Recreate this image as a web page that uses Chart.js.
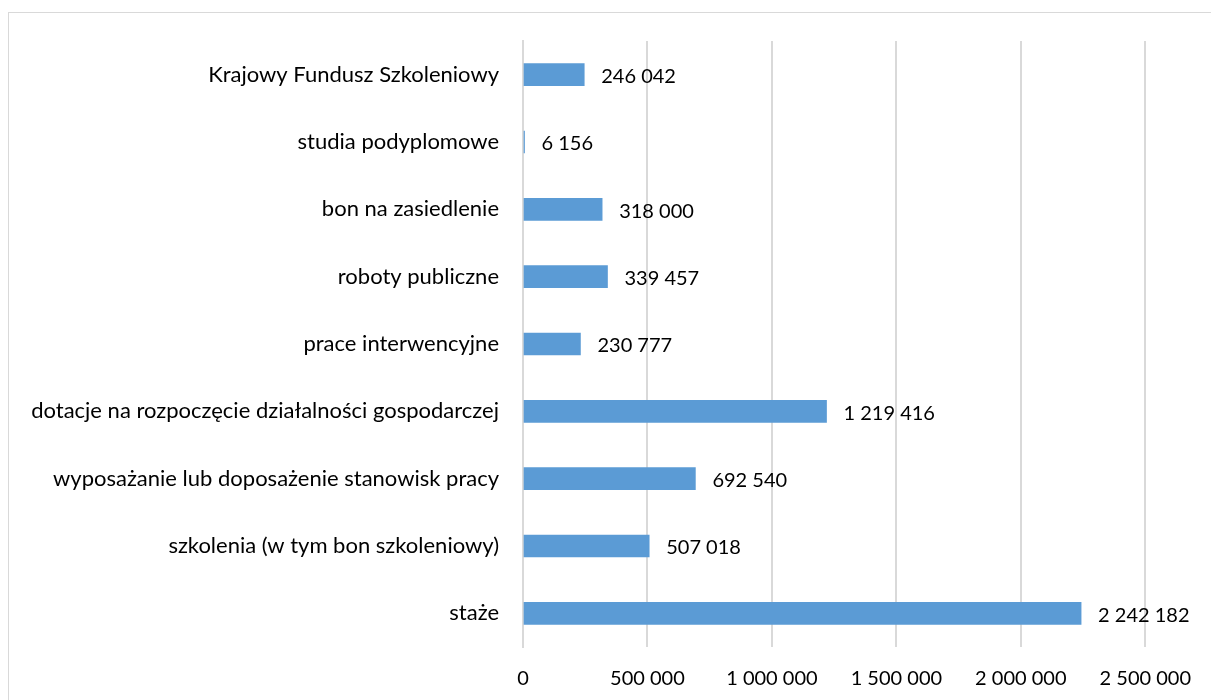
<!DOCTYPE html>
<html>
<head>
<meta charset="utf-8">
<script src="https://cdn.jsdelivr.net/npm/chart.js@4/dist/chart.umd.min.js"></script>
<style>
  body { margin: 0; background: #fff; }
  #wrap { position: relative; width: 1211px; height: 700px; overflow: hidden; }
  #frame { position: absolute; left: 8px; top: 12px; width: 1300px; height: 800px; border: 1px solid #d9d9d9; }
  canvas { position: absolute; left: 0; top: 0; }
</style>
</head>
<body>
<div id="wrap">
  <div id="frame"></div>
  <canvas id="myChart" width="1211" height="700"></canvas>
</div>
<script>
var categories = [
  'Krajowy Fundusz Szkoleniowy',
  'studia podyplomowe',
  'bon na zasiedlenie',
  'roboty publiczne',
  'prace interwencyjne',
  'dotacje na rozpoczęcie działalności gospodarczej',
  'wyposażanie lub doposażenie stanowisk pracy',
  'szkolenia (w tym bon szkoleniowy)',
  'staże'
];
var values = [246042, 6156, 318000, 339457, 230777, 1219416, 692540, 507018, 2242182];
var xTicks = [0, 500000, 1000000, 1500000, 2000000, 2500000];

var FONT = 'Lato, "Open Sans", sans-serif';

function fmt(v) {
  return String(v).replace(/\B(?=(\d{3})+(?!\d))/g, ' ');
}

// value labels next to each bar end
var valueLabels = {
  id: 'valueLabels',
  afterDatasetsDraw: function(chart) {
    var ctx = chart.ctx;
    var meta = chart.getDatasetMeta(0);
    ctx.save();
    ctx.font = '20px ' + FONT;
    ctx.fillStyle = '#000';
    ctx.textAlign = 'left';
    ctx.textBaseline = 'middle';
    meta.data.forEach(function(bar, i) {
      ctx.fillText(fmt(values[i]), bar.x + 17, bar.y + 2);
    });
    ctx.restore();
  }
};

var ctx = document.getElementById('myChart').getContext('2d');
var chart = new Chart(ctx, {
  type: 'bar',
  data: {
    labels: categories,
    datasets: [{
      data: values,
      backgroundColor: '#5b9bd5',
      borderWidth: 0,
      barThickness: 22
    }]
  },
  options: {
    indexAxis: 'y',
    responsive: false,
    animation: false,
    layout: { padding: { top: 41, right: 65, bottom: 0, left: 0 } },
    plugins: {
      legend: { display: false },
      tooltip: { enabled: false }
    },
    scales: {
      x: {
        min: 0,
        max: 2500000,
        afterBuildTicks: function(scale) {
          scale.ticks = xTicks.map(function(v) { return { value: v }; });
        },
        afterFit: function(scale) { scale.height = 53; },
        grid: { color: '#d9d9d9', lineWidth: 2, drawTicks: false },
        border: { display: false },
        ticks: {
          padding: 20,
          color: '#000',
          font: { family: FONT, size: 20 },
          maxRotation: 0,
          callback: function(v) { return fmt(v); }
        }
      },
      y: {
        afterFit: function(scale) { scale.width = 523; },
        grid: { display: false, drawTicks: false },
        border: { display: true, color: '#d9d9d9', width: 2 },
        ticks: {
          padding: 24,
          color: '#000',
          font: { family: FONT, size: 22 }
        }
      }
    }
  },
  plugins: [valueLabels]
});
</script>
</body>
</html>
